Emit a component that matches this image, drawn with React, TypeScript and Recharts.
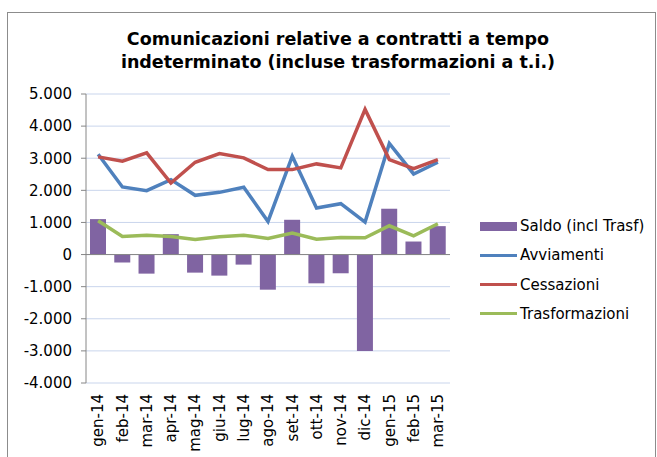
import { ComposedChart, Bar, Line, XAxis, YAxis, CartesianGrid, ReferenceLine } from 'recharts';

const months = ['gen-14', 'feb-14', 'mar-14', 'apr-14', 'mag-14', 'giu-14', 'lug-14', 'ago-14', 'set-14', 'ott-14', 'nov-14', 'dic-14', 'gen-15', 'feb-15', 'mar-15'];
const saldo = [1104, -250, -594, 635, -563, -656, -313, -1094, 1083, -896, -583, -3000, 1427, 406, 885];
const avviamenti = [3125, 2104, 1990, 2333, 1844, 1937, 2094, 1031, 3062, 1448, 1583, 1010, 3458, 2510, 2875];
const cessazioni = [3042, 2906, 3167, 2229, 2875, 3146, 3010, 2646, 2646, 2823, 2698, 4521, 2958, 2677, 2958];
const trasformazioni = [1052, 562, 604, 562, 469, 552, 604, 500, 667, 479, 531, 521, 896, 583, 958];
const yTicks = [-4000, -3000, -2000, -1000, 0, 1000, 2000, 3000, 4000, 5000];

const data = months.map((m, i) => ({
    month: m,
    saldo: saldo[i],
    avviamenti: avviamenti[i],
    cessazioni: cessazioni[i],
    trasformazioni: trasformazioni[i],
}));

const FONT = '"DejaVu Sans", Verdana, sans-serif';

const fmt = (v: number) => {
    const s = Math.abs(v).toString().replace(/\B(?=(\d{3})+(?!\d))/g, '.');
    return (v < 0 ? '-' : '') + s;
};

const MonthTick = ({ x, payload }: any) => (
    <text
        x={x}
        y={394}
        dy='0.35em'
        transform={`rotate(-90, ${x}, 394)`}
        textAnchor='end'
        fontSize={15}
        fontFamily={FONT}
        fill='#000'
    >
        {payload.value}
    </text>
);

const legendItems = [
    { label: 'Saldo (incl Trasf)', color: '#8064A2', bar: true },
    { label: 'Avviamenti', color: '#4F81BD', bar: false },
    { label: 'Cessazioni', color: '#C0504D', bar: false },
    { label: 'Trasformazioni', color: '#9BBB59', bar: false },
];

const App = () => {
    return (
        <div style={{ position: 'absolute', left: 0, top: 0, width: 657, height: 457, background: '#fff', fontFamily: FONT }}>
            <div style={{ position: 'absolute', left: 7, top: 12, width: 647, height: 460, border: '1px solid #8c8c8c' }} />
            <div style={{ position: 'absolute', left: 0, top: 28, width: 676, textAlign: 'center', fontWeight: 'bold', fontSize: 17.5, lineHeight: '23px', color: '#000' }}>
                Comunicazioni relative a contratti a tempo<br />indeterminato (incluse trasformazioni a t.i.)
            </div>
            <ComposedChart width={657} height={457} data={data} margin={{ top: 94, right: 207, bottom: 0, left: 0 }} style={{ position: 'absolute', left: 0, top: 0 }}>
                <CartesianGrid horizontal vertical={false} stroke='#C9D5EC' />
                <XAxis dataKey='month' height={74} axisLine={false} tickLine={false} tick={<MonthTick />} interval={0} />
                <YAxis
                    width={86}
                    domain={[-4000, 5000]}
                    ticks={yTicks}
                    tickFormatter={fmt}
                    axisLine={{ stroke: '#868686' }}
                    tickLine={{ stroke: '#868686' }}
                    tickSize={5}
                    tickMargin={9}
                    tick={{ fontSize: 15, fill: '#000', fontFamily: FONT }}
                />
                <ReferenceLine y={0} stroke='#868686' />
                <Bar dataKey='saldo' fill='#8064A2' barSize={16} isAnimationActive={false} />
                <Line type='linear' dataKey='avviamenti' stroke='#4F81BD' strokeWidth={3.5} dot={false} isAnimationActive={false} />
                <Line type='linear' dataKey='cessazioni' stroke='#C0504D' strokeWidth={3.5} dot={false} isAnimationActive={false} />
                <Line type='linear' dataKey='trasformazioni' stroke='#9BBB59' strokeWidth={3.5} dot={false} isAnimationActive={false} />
            </ComposedChart>
            {legendItems.map((it, i) => (
                <div key={it.label} style={{ position: 'absolute', left: 480, top: 216 + i * 29.3, height: 20, display: 'flex', alignItems: 'center', fontSize: 15, color: '#000' }}>
                    <span style={{ display: 'inline-block', width: 37, height: it.bar ? 9 : 3, background: it.color, marginRight: 3 }} />
                    {it.label}
                </div>
            ))}
        </div>
    );
};

export default App;
